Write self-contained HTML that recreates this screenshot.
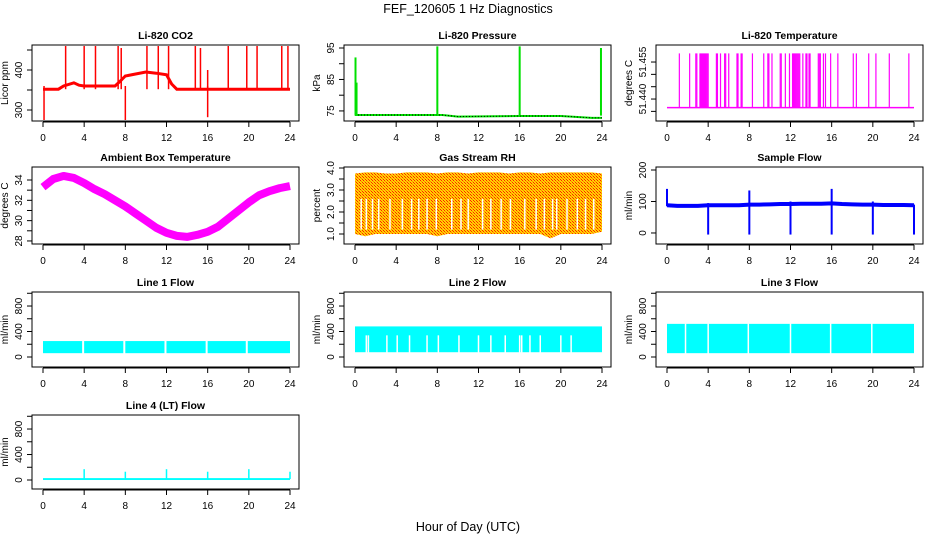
<!DOCTYPE html>
<html><head><meta charset="utf-8"><style>
html,body{margin:0;padding:0;background:#fff}
svg{display:block;font-family:"Liberation Sans",sans-serif}
</style></head><body>
<svg id="c" width="936" height="540" viewBox="0 0 936 540">
<defs>
<pattern id="rhpat" width="3" height="3" patternUnits="userSpaceOnUse">
<rect width="3" height="3" fill="#ffd400"/><rect x="0" y="0" width="1" height="1" fill="#ff2000"/><rect x="2" y="2" width="1" height="1" fill="#ff2000"/><rect x="1" y="1" width="1" height="1" fill="#ff8000"/>
</pattern>
</defs>
<text x="468" y="13" font-size="12.5" text-anchor="middle">FEF_120605  1 Hz Diagnostics</text>
<text x="468" y="531" font-size="12.5" text-anchor="middle">Hour of Day (UTC)</text>
</svg>
<script>
// ---- data ----
const hours = [0,1,2,3,4,5,6,7,8,9,10,11,12,13,14,15,16,17,18,19,20,21,22,23,24];
const xTicks = [0,4,8,12,16,20,24];
const co2Hours = [0,1.5,2,3,3.5,4,7,7.5,8,9,10,11,12,12.5,13,24];
const co2Base = [352,352,360,368,362,360,360,372,385,390,395,392,388,365,352,352];
const co2SpikeT = [2.2,4,5.1,7.3,7.6,10.1,11.2,12.2,14.8,15.3,16,18,19.8,20.8,23.2,23.8];
const co2SpikeV = [460,460,460,460,455,460,460,460,460,455,400,460,460,460,460,460];
const co2DipT = [0.1,8,16];
const co2DipV = [275,275,282];
const presHours = [0,8.5,10,16,20,22,23,24];
const presBase = [73.7,73.7,73.2,73.4,73.4,73.0,72.8,72.8];
const presSpikeT = [0.05,0.15,8,16,23.9];
const presSpikeV = [92,84,95.5,95.5,95];
const ltBase = 51.4365;
const ltSpikeV = 51.4585;
const ltSpikeT = [1.2,2.2,2.8,2.9,3.2,3.3,3.4,3.5,3.6,3.7,3.8,3.9,4.0,4.8,4.9,5.2,5.6,5.7,6.0,6.8,6.9,7.2,7.3,8.3,9.4,9.8,9.9,10.2,11.0,11.1,11.5,11.9,12.2,12.3,12.4,12.5,12.6,12.7,12.8,12.9,13.2,13.5,13.6,13.8,13.9,14.7,14.8,14.9,15.2,15.4,15.9,16.6,18.1,18.4,19.6,20.3,21.6,23.5];
const ambTemp = [33.3,34.1,34.4,34.2,33.7,33.1,32.6,32.0,31.4,30.7,30.0,29.3,28.8,28.5,28.4,28.6,28.9,29.4,30.2,31.0,31.8,32.5,32.9,33.2,33.4];
const rhHigh = [3.75,3.8,3.8,3.75,3.75,3.8,3.8,3.8,3.75,3.8,3.8,3.75,3.8,3.8,3.8,3.75,3.8,3.8,3.75,3.8,3.8,3.8,3.8,3.8,3.75];
const rhLow = [1.0,0.9,1.0,1.0,1.0,1.0,1.0,1.0,0.9,1.0,1.0,1.0,1.0,1.0,1.0,1.0,1.0,1.0,1.0,0.8,1.0,1.0,1.0,1.0,1.1];
const rhGapT = [0.6,1.1,1.7,2.3,3.4,4.6,5.5,6.2,7.0,7.9,9.4,10.3,11.0,12.4,13.2,14.2,15.1,16.5,17.6,18.4,19.2,19.6,20.6,21.6,22.4,23.2];
const sfBase = [88,86,86,86,88,88,88,88,90,90,91,92,92,93,93,93,94,92,91,90,90,89,89,89,88];
const sfSpikeT = [0,4,8,12,16,20,24];
const sfSpikeLo = [85,-5,-5,-5,-5,-5,-5];
const sfSpikeHi = [140,95,135,100,140,100,90];
const l1Lo = 60, l1Hi = 250;
const l2Lo = 75, l2Hi = 480;
const l3Lo = 60, l3Hi = 520;
const l1GapT = [3.9,7.9,11.9,15.9,19.8];
const l2GapT = [1.1,1.3,3.1,4.1,5.3,7.0,8.1,10.1,12.0,13.2,14.6,16.0,16.2,17.0,18.0,20.0,21.0];
const l3GapT = [1.8,4.0,7.9,12.0,15.9,19.9];
const l4Base = 15;
const l4SpikeT = [4,8,12,16,20,24];
const l4SpikeV = [170,130,170,130,170,130];
const flowTicks = [0,200,400,600,800,1000];
const flowLabels = ['0','','400','','800',''];

// ---- layout ----
const svg = document.getElementById('c');
const NS = 'http://www.w3.org/2000/svg';
const colL = [32,344,656], W = 267;
const rowY = [[45,121],[167,244],[292,367],[415,489]];
function mk(tag, attrs, parent){const e=document.createElementNS(NS,tag);for(const k in attrs)e.setAttribute(k,attrs[k]);(parent||svg).appendChild(e);return e;}

function panel(col,row,title,ylab,ymin,ymax,yt,ytl,nm){
  const L=colL[col],T=rowY[row][0],B=rowY[row][1];
  const g=mk('g',{});
  
  
  const x=h=>L+11+h*247/24;
  const y=v=>B-(v-ymin)/(ymax-ymin)*(B-T);
  const box=mk('rect',{x:L,y:T,width:W,height:B-T,fill:'none',stroke:'#000','stroke-width':1},g);
  
  
  const t=mk('text',{x:L+W/2,y:T-6,'font-size':10.5,'font-weight':'bold','text-anchor':'middle'},g);
  t.textContent=title;
  
  
  const xa=mk('g',{},g);
  
  
  mk('line',{x1:x(0),x2:x(24),y1:B+1,y2:B+1,stroke:'#000'},xa);
  xTicks.forEach(h=>{mk('line',{x1:x(h),x2:x(h),y1:B+1,y2:B+6,stroke:'#000'},xa);
    const tl=mk('text',{x:x(h),y:B+20,'font-size':10,'text-anchor':'middle'},xa);tl.textContent=h;});
  const ya=mk('g',{},g);
  
  
  yt.forEach((v,i)=>{mk('line',{x1:L-5,x2:L,y1:y(v),y2:y(v),stroke:'#000'},ya);
    if(ytl[i]){const tl=mk('text',{x:L-10,y:y(v),'font-size':10,'text-anchor':'middle',transform:`rotate(-90 ${L-10} ${y(v)})`},ya);tl.textContent=ytl[i];}});
  const yl=mk('text',{x:L-24,y:(T+B)/2,'font-size':10,'text-anchor':'middle',transform:`rotate(-90 ${L-24} ${(T+B)/2})`},g);
  yl.textContent=ylab;
  
  
  const s=mk('g',{},g);
  
  
  return {x,y,s};
}
function pl(xs,ys,P,attrs){return mk('polyline',Object.assign({points:xs.map((h,i)=>P.x(h)+','+P.y(ys[i])).join(' '),fill:'none'},attrs),P.s);}
function vl(h,a,b,P,col,w){return mk('line',{x1:P.x(h),x2:P.x(h),y1:P.y(a),y2:P.y(b),stroke:col,'stroke-width':w||1},P.s);}
function band(lo,hi,P,fill){return mk('rect',{x:P.x(0),y:P.y(hi),width:P.x(24)-P.x(0),height:P.y(lo)-P.y(hi),fill:fill},P.s);}

// CO2
let P=panel(0,0,'Li-820 CO2','Licor ppm',272.5,462.5,[300,350,400,450],['300','','400',''],'co2');
pl(co2Hours,co2Base,P,{stroke:'#ff0000','stroke-width':3});
co2SpikeT.forEach((t,i)=>vl(t,co2Base[0],co2SpikeV[i],P,'#ff0000',1.5));
co2DipT.forEach((t,i)=>vl(t,360,co2DipV[i],P,'#ff0000',1.5));

// Pressure
P=panel(1,0,'Li-820 Pressure','kPa',71.8,95.95,[75,80,85,90,95],['75','','85','','95'],'pressure');
pl(presHours,presBase,P,{stroke:'#00e000','stroke-width':2});
pl(presHours,presBase,P,{stroke:'#000','stroke-width':1,'stroke-dasharray':'1,2'});
presSpikeT.forEach((t,i)=>vl(t,73.5,presSpikeV[i],P,'#00e000',2));

// Li-820 temp
P=panel(2,0,'Li-820 Temperature','degrees C',51.4311,51.4619,[51.435,51.44,51.445,51.45,51.455],['','51.440','','','51.455'],'li820-temp');
pl([0,24],[ltBase,ltBase],P,{stroke:'#ff00ff','stroke-width':1.5});
ltSpikeT.forEach(t=>vl(t,ltBase,ltSpikeV,P,'#ff00ff',1.2));

// Ambient
P=panel(0,1,'Ambient Box Temperature','degrees C',27.7,35.28,[28,29,30,31,32,33,34],['28','','30','','32','','34'],'ambient-temp');
pl(hours,ambTemp,P,{stroke:'#ff00ff','stroke-width':8,'stroke-linejoin':'round'});

// RH
P=panel(1,1,'Gas Stream RH','percent',0.545,4.045,[1,1.5,2,2.5,3,3.5,4],['1.0','','2.0','','3.0','','4.0'],'gas-rh');
mk('polygon',{points:hours.map((h,i)=>P.x(h)+','+P.y(rhHigh[i])).concat(hours.slice().reverse().map((h,j)=>P.x(h)+','+P.y(rhLow[24-j]))).join(' '),fill:'url(#rhpat)'},P.s);
rhGapT.forEach(t=>vl(t,1.2,2.6,P,'#fff',1.5));

// Sample flow
P=panel(2,1,'Sample Flow','ml/min',-35,209.5,[0,100,200],['0','100','200'],'sample-flow');
pl(hours,sfBase,P,{stroke:'#0000ff','stroke-width':4});
sfSpikeT.forEach((t,i)=>vl(t,sfSpikeLo[i],sfSpikeHi[i],P,'#0000ff',2));

// Line flows
P=panel(0,2,'Line 1 Flow','ml/min',-157,1020,flowTicks,flowLabels,'line1-flow');
band(l1Lo,l1Hi,P,'#00ffff');l1GapT.forEach(t=>vl(t,l1Lo-5,l1Hi+5,P,'#fff',2));
P=panel(1,2,'Line 2 Flow','ml/min',-157,1020,flowTicks,flowLabels,'line2-flow');
band(l2Lo,l2Hi,P,'#00ffff');l2GapT.forEach(t=>vl(t,l2Lo-5,340,P,'#fff',1.5));
P=panel(2,2,'Line 3 Flow','ml/min',-157,1020,flowTicks,flowLabels,'line3-flow');
band(l3Lo,l3Hi,P,'#00ffff');l3GapT.forEach(t=>vl(t,l3Lo-5,l3Hi+5,P,'#fff',1.5));
P=panel(0,3,'Line 4 (LT) Flow','ml/min',-141,1020,flowTicks,flowLabels,'line4-flow');
band(0,30,P,'#00ffff');l4SpikeT.forEach((t,i)=>vl(t,l4Base,l4SpikeV[i],P,'#00ffff',1.5));
</script>
</body></html>
